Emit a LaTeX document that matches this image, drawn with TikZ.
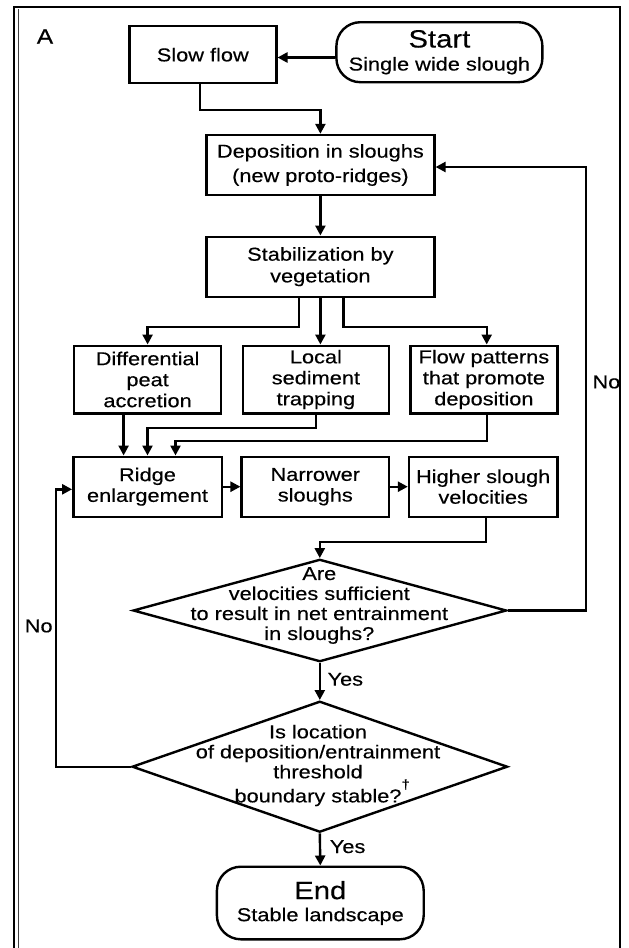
\documentclass[tikz,border=0pt]{standalone}
\usepackage{fontspec}
\setmainfont[FakeStretch=1.17,FakeBold=0.35]{Liberation Sans}
\usetikzlibrary{shapes.geometric,arrows.meta,calc}
\begin{document}
\begin{tikzpicture}[x=1pt,y=-1pt,
  lw/.style={line width=2.4pt},
  box/.style={draw,lw,inner sep=0pt,align=center,font=\fontsize{18.6}{21}\selectfont},
  term/.style={box,rounded corners=24pt,font=\fontsize{18.6}{23}\selectfont},
  dia/.style={draw,lw,diamond,inner sep=0pt},
  txt/.style={inner sep=0pt,align=center,font=\fontsize{18.6}{20}\selectfont},
  arr/.style={lw,-{Triangle[length=10pt,width=10pt]}}]
\useasboundingbox (0,0) rectangle (629,948);
% frame
\draw[line width=2pt] (14,948) -- (14,7) -- (620,7) -- (620,948);
\draw[line width=1.8pt,black!75] (18.5,948) -- (18.5,9);
\node[txt,font=\fontsize{21}{21}\selectfont] (lblA) at (45,36.5) {A};
% nodes
\node[box,minimum width=147pt,minimum height=57pt] (slow) at (202.8,54.7) {Slow flow};
\node[term,minimum width=206pt,minimum height=60pt] (start) at (439.4,52.2) {{\fontsize{25}{23}\selectfont Start}\\Single wide slough};
\node[box,minimum width=228pt,minimum height=60pt,font=\fontsize{18.6}{24.4}\selectfont] (dep) at (320.4,165) {Deposition in sloughs\\(new proto-ridges)};
\node[box,minimum width=228pt,minimum height=60pt,font=\fontsize{18.6}{21.7}\selectfont] (stab) at (320.4,266.7) {Stabilization by\\vegetation};
\node[box,minimum width=147pt,minimum height=67.6pt] (diff) at (147.6,379.5) {Differential\\peat\\accretion};
\node[box,minimum width=146pt,minimum height=67.6pt] (local) at (315.9,379.5) {Local\\sediment\\trapping};
\node[box,minimum width=147pt,minimum height=67.6pt] (flow) at (483.9,379.5) {Flow patterns\\that promote\\deposition};
\node[box,minimum width=148.4pt,minimum height=60pt,font=\fontsize{18.6}{20.7}\selectfont] (ridge) at (147.5,486.7) {Ridge\\enlargement};
\node[box,minimum width=147.3pt,minimum height=60pt,font=\fontsize{18.6}{20.7}\selectfont] (narrow) at (315.3,486.7) {Narrower\\sloughs};
\node[box,minimum width=148.4pt,minimum height=60pt,font=\fontsize{18.6}{20.7}\selectfont] (higher) at (483.2,486.7) {Higher slough\\velocities};
\node[dia,minimum width=373.5pt,minimum height=102.4pt] (d1) at (319.8,610.5) {};
\node[txt] (d1t) at (319.3,605.5) {Are\\velocities sufficient\\to result in net entrainment\\in sloughs?};
\node[dia,minimum width=375.5pt,minimum height=131pt] (d2) at (319.8,766.7) {};
\node[txt] (d2t) at (318,765.5) {Is location\\of deposition/entrainment\\threshold\\boundary stable?\rlap{\raisebox{13.5pt}{\fontsize{13}{13}\selectfont †}}};
\node[term,minimum width=206.8pt,minimum height=72.6pt,font=\fontsize{18.6}{22}\selectfont] (end) at (320.3,903) {{\fontsize{25}{22}\selectfont End}\\Stable landscape};
% labels
\node[txt] (noR) at (606.4,382) {No};
\node[txt] (noL) at (38.7,626) {No};
\node[txt] (yes1) at (345.3,679.3) {Yes};
\node[txt] (yes2) at (347.6,846.7) {Yes};
% connectors
\coordinate (s1) at ([yshift=-5.3pt]start.west);
\draw[arr] (s1) -- (s1 -| slow.east);
\draw[arr] ([xshift=-2.8pt]slow.south) -- ++(0,25.7) -| (dep.north);
\draw[arr] (dep.south) -- (stab.north);
\draw[arr] ([xshift=-21.2pt]stab.south) -- ++(0,29) -| (diff.north);
\draw[arr] (stab.south) -- (stab.south |- local.north);
\draw[arr] ([xshift=23pt]stab.south) -- ++(0,29) -| ([xshift=2.8pt]flow.north);
\coordinate (ds) at ([xshift=-24pt]diff.south);
\draw[arr] (ds) -- (ds |- ridge.north);
\draw[arr] (local.south) -- ++(0,13.7) -| (ridge.north);
\draw[arr] ([xshift=2.8pt]flow.south) -- ++(0,26.7) -| ([xshift=28pt]ridge.north);
\draw[arr] (ridge.east) -- (narrow.west);
\draw[arr] (narrow.east) -- (higher.west);
\draw[arr] ([xshift=2.8pt]higher.south) -- ++(0,24) -| (d1.north);
\draw[arr] (d1.east) -- ++(78.3,0) |- ([yshift=-2pt]dep.east);
\draw[arr] (d1.south) -- (d2.north);
\draw[arr] (d2.west) -- ++(-75.1,0) |- ([yshift=-2.6pt]ridge.west);
\draw[arr] (d2.south) -- (end.north);
\end{tikzpicture}
\end{document}
